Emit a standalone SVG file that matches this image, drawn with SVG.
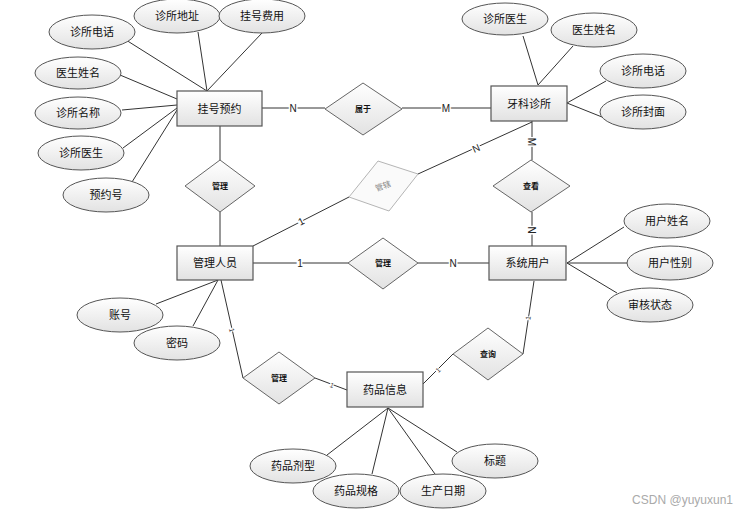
<svg xmlns="http://www.w3.org/2000/svg" width="748" height="517" viewBox="0 0 748 517">
<defs>
<linearGradient id="g" x1="0" y1="0" x2="0" y2="1">
<stop offset="0" stop-color="#ffffff"/>
<stop offset="1" stop-color="#e2e2e2"/>
</linearGradient>
<style>
.ent{fill:url(#g);stroke:#555;stroke-width:1.2}
.att{fill:url(#g);stroke:#555;stroke-width:1}
.rel{fill:url(#g);stroke:#666;stroke-width:1}
.relg{fill:#fafafa;stroke:#b5b5b5;stroke-width:1}
.t{font-family:"Noto Sans CJK SC","Noto Sans",sans-serif;font-size:11px;fill:#111;text-anchor:middle}
.rt{font-family:"Noto Sans CJK SC","Noto Sans",sans-serif;font-size:8px;font-weight:bold;fill:#111;text-anchor:middle}
.lb{font-family:"Liberation Sans",Arial,sans-serif;font-size:10px;fill:#222;text-anchor:middle;stroke:#fff;stroke-width:3;paint-order:stroke}
.sm{font-family:"Liberation Sans",Arial,sans-serif;font-size:7px;fill:#333;text-anchor:middle;stroke:#fff;stroke-width:2;paint-order:stroke}
.c line{stroke:#333;stroke-width:1}
</style>
</defs>
<rect width="748" height="517" fill="#fff"/>
<g class="c" id="connectors">
<line x1="126" y1="40" x2="207" y2="91"/>
<line x1="198" y1="32" x2="207" y2="91"/>
<line x1="262" y1="33" x2="207" y2="91"/>
<line x1="120" y1="75" x2="177" y2="99"/>
<line x1="122" y1="110" x2="177" y2="105"/>
<line x1="123" y1="148" x2="177" y2="108"/>
<line x1="132" y1="182" x2="177" y2="110"/>
<line x1="262" y1="108" x2="325" y2="108"/>
<line x1="402" y1="108" x2="491" y2="108"/>
<line x1="220" y1="126" x2="220" y2="160"/>
<line x1="220" y1="212" x2="220" y2="246"/>
<line x1="523" y1="36" x2="538" y2="85"/>
<line x1="573" y1="46" x2="538" y2="85"/>
<line x1="606" y1="81" x2="567" y2="103"/>
<line x1="602" y1="117" x2="567" y2="103"/>
<line x1="532" y1="121" x2="532" y2="160"/>
<line x1="532" y1="212" x2="532" y2="246"/>
<line x1="532" y1="122" x2="418" y2="174"/>
<line x1="349" y1="197" x2="253" y2="246"/>
<line x1="253" y1="263" x2="348" y2="263"/>
<line x1="418" y1="263" x2="489" y2="263"/>
<line x1="567" y1="263" x2="624" y2="227"/>
<line x1="567" y1="263" x2="628" y2="263"/>
<line x1="567" y1="263" x2="617" y2="293"/>
<line x1="156" y1="304" x2="218" y2="280"/>
<line x1="193" y1="326" x2="218" y2="280"/>
<line x1="221" y1="280" x2="243" y2="378"/>
<line x1="315" y1="378" x2="347" y2="390"/>
<line x1="534" y1="281" x2="523" y2="354"/>
<line x1="453" y1="354" x2="423" y2="384"/>
<line x1="327" y1="455" x2="388" y2="408"/>
<line x1="372" y1="474" x2="388" y2="408"/>
<line x1="435" y1="474" x2="388" y2="408"/>
<line x1="457" y1="452" x2="388" y2="408"/>
<text class="lb" x="293" y="112">N</text>
<text class="lb" x="446" y="112">M</text>
<text class="lb" transform="translate(532,142) rotate(90)" y="4">M</text>
<text class="lb" transform="translate(532,230) rotate(90)" y="4">N</text>
<text class="lb" transform="translate(476,148) rotate(-24)" y="4">N</text>
<text class="lb" transform="translate(301,221) rotate(-27)" y="4">1</text>
<text class="lb" x="300" y="267">1</text>
<text class="lb" x="453" y="267">N</text>
<text class="sm" transform="translate(232,330) rotate(77)" y="2.5">1</text>
<text class="sm" transform="translate(332,385) rotate(21)" y="2.5">1</text>
<text class="sm" transform="translate(528,318) rotate(-81)" y="2.5">1</text>
<text class="sm" transform="translate(438,370) rotate(-45)" y="2.5">1</text>
</g>
<g id="e-guahao"><rect class="ent" x="177" y="91" width="85" height="35"/><text class="t" x="219.5" y="112.5">挂号预约</text></g>
<g id="e-yake"><rect class="ent" x="491" y="86" width="76" height="35"/><text class="t" x="529" y="107.5">牙科诊所</text></g>
<g id="e-guanli"><rect class="ent" x="177" y="246" width="76" height="34"/><text class="t" x="215" y="267">管理人员</text></g>
<g id="e-xitong"><rect class="ent" x="489" y="246" width="77" height="34"/><text class="t" x="527.5" y="267">系统用户</text></g>
<g id="e-yaopin"><rect class="ent" x="347" y="372" width="76" height="35"/><text class="t" x="385" y="393.5">药品信息</text></g>
<g id="r-shuyu"><polygon class="rel" points="325,109 363,83 402,109 363,135"/><text class="rt" x="363" y="112">属于</text></g>
<g id="r-guanli1"><polygon class="rel" points="185,186 220,160 255,186 220,212"/><text class="rt" x="220" y="189">管理</text></g>
<g id="r-guanxia"><polygon class="relg" points="349,197 378,161 418,174 389,211"/><text class="rt" style="fill:#888;font-weight:normal" transform="translate(383,186) rotate(-20)" y="3">管辖</text></g>
<g id="r-chakan"><polygon class="rel" points="493,186 531,160 570,186 531,212"/><text class="rt" x="531" y="189">查看</text></g>
<g id="r-guanli2"><polygon class="rel" points="348,263 383,238 418,263 383,289"/><text class="rt" x="383" y="266">管理</text></g>
<g id="r-guanli3"><polygon class="rel" points="243,378 279,352 315,378 279,404"/><text class="rt" x="279" y="381">管理</text></g>
<g id="r-chaxun"><polygon class="rel" points="453,354 488,328 523,354 488,380"/><text class="rt" x="488" y="357">查询</text></g>
<g id="a1"><ellipse class="att" cx="92" cy="32" rx="43" ry="17"/><text class="t" x="92" y="36">诊所电话</text></g>
<g id="a2"><ellipse class="att" cx="177" cy="16" rx="43" ry="17"/><text class="t" x="177" y="20">诊所地址</text></g>
<g id="a3"><ellipse class="att" cx="262" cy="16" rx="43" ry="17"/><text class="t" x="262" y="20">挂号费用</text></g>
<g id="a4"><ellipse class="att" cx="78" cy="73" rx="43" ry="16"/><text class="t" x="78" y="77">医生姓名</text></g>
<g id="a5"><ellipse class="att" cx="78" cy="113" rx="43" ry="16"/><text class="t" x="78" y="117">诊所名称</text></g>
<g id="a6"><ellipse class="att" cx="81" cy="153" rx="43" ry="17"/><text class="t" x="81" y="157">诊所医生</text></g>
<g id="a7"><ellipse class="att" cx="106" cy="195" rx="43" ry="17"/><text class="t" x="106" y="199">预约号</text></g>
<g id="a8"><ellipse class="att" cx="505" cy="19" rx="43" ry="16"/><text class="t" x="505" y="23">诊所医生</text></g>
<g id="a9"><ellipse class="att" cx="594" cy="30" rx="43" ry="17"/><text class="t" x="594" y="34">医生姓名</text></g>
<g id="a10"><ellipse class="att" cx="643" cy="71" rx="43" ry="17"/><text class="t" x="643" y="75">诊所电话</text></g>
<g id="a11"><ellipse class="att" cx="643" cy="112" rx="43" ry="17"/><text class="t" x="643" y="116">诊所封面</text></g>
<g id="a12"><ellipse class="att" cx="667" cy="221" rx="43" ry="17"/><text class="t" x="667" y="225">用户姓名</text></g>
<g id="a13"><ellipse class="att" cx="670" cy="263" rx="43" ry="17"/><text class="t" x="670" y="267">用户性别</text></g>
<g id="a14"><ellipse class="att" cx="650" cy="305" rx="43" ry="17"/><text class="t" x="650" y="309">审核状态</text></g>
<g id="a15"><ellipse class="att" cx="120" cy="315" rx="43" ry="17"/><text class="t" x="120" y="319">账号</text></g>
<g id="a16"><ellipse class="att" cx="177" cy="343" rx="43" ry="17"/><text class="t" x="177" y="347">密码</text></g>
<g id="a17"><ellipse class="att" cx="293" cy="466" rx="43" ry="17"/><text class="t" x="293" y="470">药品剂型</text></g>
<g id="a18"><ellipse class="att" cx="356" cy="491" rx="43" ry="17"/><text class="t" x="356" y="495">药品规格</text></g>
<g id="a19"><ellipse class="att" cx="443" cy="491" rx="43" ry="17"/><text class="t" x="443" y="495">生产日期</text></g>
<g id="a20"><ellipse class="att" cx="495" cy="461" rx="43" ry="17"/><text class="t" x="495" y="465">标题</text></g>
<text x="733" y="504" style="font-family:'Liberation Sans',Arial,sans-serif;font-size:12px;fill:#aaa;text-anchor:end">CSDN @yuyuxun1</text>
</svg>
